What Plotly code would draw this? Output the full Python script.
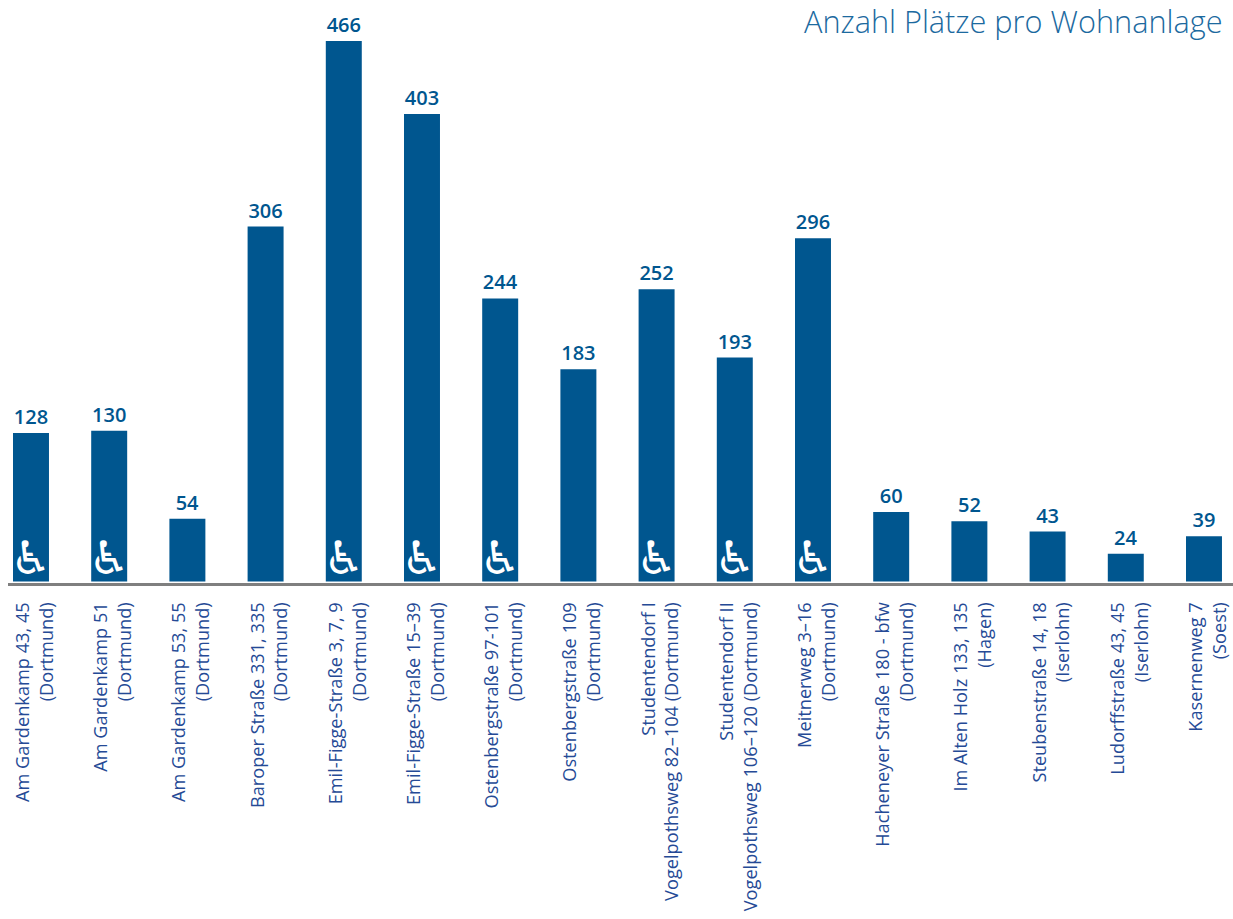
import plotly.graph_objects as go

# Residences and their number of places
residences = [
    "Am Gardenkamp 43, 45<br>(Dortmund)",
    "Am Gardenkamp 51<br>(Dortmund)",
    "Am Gardenkamp 53, 55<br>(Dortmund)",
    "Baroper Straße 331, 335<br>(Dortmund)",
    "Emil-Figge-Straße 3, 7, 9<br>(Dortmund)",
    "Emil-Figge-Straße 15–39<br>(Dortmund)",
    "Ostenbergstraße 97-101<br>(Dortmund)",
    "Ostenbergstraße 109<br>(Dortmund)",
    "Studentendorf I<br>Vogelpothsweg 82–104 (Dortmund)",
    "Studentendorf II<br>Vogelpothsweg 106–120 (Dortmund)",
    "Meitnerweg 3–16<br>(Dortmund)",
    "Hacheneyer Straße 180 - bfw<br>(Dortmund)",
    "Im Alten Holz 133, 135<br>(Hagen)",
    "Steubenstraße 14, 18<br>(Iserlohn)",
    "Ludorffstraße 43, 45<br>(Iserlohn)",
    "Kasernenweg 7<br>(Soest)",
]
places = [128, 130, 54, 306, 466, 403, 244, 183, 252, 193, 296, 60, 52, 43, 24, 39]
# Residences with barrier-free rooms
accessible = [True, True, False, False, True, True, True, False,
              True, True, True, False, False, False, False, False]
icon_level = 16

BLUE = "#00568f"
LABEL_BLUE = "#254a96"

positions = list(range(len(residences)))
icon_x = [p for p, a in zip(positions, accessible) if a]

fig = go.Figure()
fig.add_bar(
    x=positions,
    y=places,
    marker=dict(color=BLUE, line=dict(width=0)),
    text=[str(v) for v in places],
    textposition="outside",
    cliponaxis=False,
    textfont=dict(family="Open Sans", size=20, color=BLUE, weight=600),
    hoverinfo="skip",
)
fig.add_scatter(
    x=icon_x,
    y=[icon_level] * len(icon_x),
    mode="text",
    text=["♿"] * len(icon_x),
    textposition="middle center",
    textfont=dict(family="DejaVu Sans", size=46, color="white"),
    hoverinfo="skip",
)

fig.update_layout(
    width=1233,
    height=919,
    margin=dict(l=8, r=0, t=0, b=336),
    paper_bgcolor="white",
    plot_bgcolor="white",
    showlegend=False,
    bargap=0.54,
    title=dict(
        text="Anzahl Plätze pro Wohnanlage",
        x=0.9915,
        xanchor="right",
        y=0.9755,
        yanchor="middle",
        font=dict(family="Open Sans", size=30.7, color="#1c6a9f", weight=300),
    ),
    xaxis=dict(
        range=[-0.294, 15.371],
        tickmode="array",
        tickvals=positions,
        ticktext=residences,
        tickangle=-90,
        ticks="outside",
        ticklen=9,
        ticklabelshift=4,
        tickcolor="rgba(0,0,0,0)",
        showline=True,
        linecolor="#7f7f7f",
        linewidth=3,
        showgrid=False,
        zeroline=False,
        tickfont=dict(family="Open Sans", size=18.2, color=LABEL_BLUE),
    ),
    yaxis=dict(
        range=[-1.3, 501.3],
        visible=False,
        showgrid=False,
        zeroline=False,
    ),
)

fig.write_html("out.html")
